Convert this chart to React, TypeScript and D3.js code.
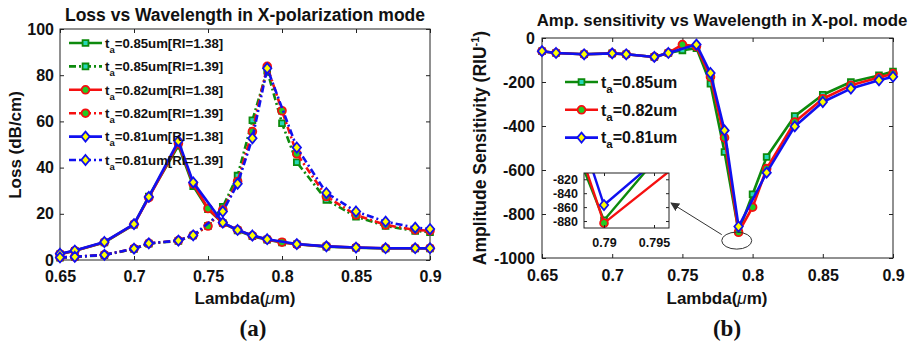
import { useEffect, useRef } from 'react';
import * as d3 from 'd3';

// wavelength samples (um); the 0.81um curves were not sampled at 0.75 / 0.80
const lambdaAll = [0.65, 0.66, 0.68, 0.7, 0.71, 0.73, 0.74, 0.75, 0.76, 0.77, 0.78, 0.79, 0.8, 0.81, 0.83, 0.85, 0.87, 0.89, 0.9];
const lambdaB = [0.65, 0.66, 0.68, 0.7, 0.71, 0.73, 0.74, 0.76, 0.77, 0.78, 0.79, 0.81, 0.83, 0.85, 0.87, 0.89, 0.9];

// (a) loss, dB/cm
const loss085ri138 = [2.5, 4, 7.6, 15.3, 27.5, 49.5, 32, 22, 16, 12.8, 10.3, 8.8, 7.6, 6.8, 5.8, 5.3, 5, 5, 5];
const loss085ri139 = [1, 1.3, 2.1, 4.8, 7.1, 8.3, 10.6, 14.8, 23, 36.5, 60.5, 82, 59.2, 42.3, 26, 18.8, 14.7, 12.6, 12];
const loss082ri138 = [2.6, 4, 7.7, 15.4, 27, 50.5, 33, 22.3, 16, 13, 10.5, 8.9, 7.7, 6.8, 5.9, 5.4, 5.1, 5.1, 5.1];
const loss082ri139 = [1.1, 1.4, 2.2, 4.9, 7.2, 8.4, 10.7, 14.7, 21.7, 34, 55.6, 83.8, 64.6, 46, 27.5, 19.5, 15.2, 13, 12.7];
const loss081ri138 = [2.7, 4.1, 7.8, 15.5, 27.3, 51.5, 33.6, 16.2, 13, 10.6, 9, 6.9, 5.9, 5.4, 5.1, 5.1, 5.1];
const loss081ri139 = [1.1, 1.4, 2.2, 4.9, 7.2, 8.4, 10.7, 21, 33, 52.7, 83, 48.7, 29, 21, 16.6, 14, 13.4];

// (b) amplitude sensitivity, RIU^-1
const sens085 = [-60, -68, -74, -70, -74, -86, -68, -56, -46, -208, -518, -879, -710, -541, -355, -258, -200, -170, -152];
const sens082 = [-60, -68, -74, -70, -74, -86, -68, -30, -38, -177, -453, -883, -769, -594, -382, -276, -215, -180, -162];
const sens081 = [-60, -68, -74, -70, -74, -86, -68, -30, -159, -420, -857, -612, -402, -291, -230, -192, -176];

const xTicks = [0.65, 0.7, 0.75, 0.8, 0.85, 0.9];
const lossTicks = [0, 20, 40, 60, 80, 100];
const sensTicks = [0, -200, -400, -600, -800, -1000];
const insetXTicks = [0.79, 0.795];
const insetYTicks = [-820, -840, -860, -880];

const FONT = '"Liberation Sans", Arial, Helvetica, sans-serif';
const DASH = '7,3,2,3';
const INK = '#222';

type Marker = 'square' | 'circle' | 'diamond';
interface Series {
  xs: number[];
  ys: number[];
  color: string;
  fill: string;
  marker: Marker;
  dashed: boolean;
  label: string;
}

const GREEN = '#0d8a0d';
const RED = '#f51010';
const BLUE = '#1010f0';

const lossSeries: Series[] = [
  { xs: lambdaAll, ys: loss085ri138, color: GREEN, fill: '#25d8b8', marker: 'square', dashed: false, label: '=0.85um[RI=1.38]' },
  { xs: lambdaAll, ys: loss085ri139, color: GREEN, fill: '#25d8b8', marker: 'square', dashed: true, label: '=0.85um[RI=1.39]' },
  { xs: lambdaAll, ys: loss082ri138, color: RED, fill: '#22cc22', marker: 'circle', dashed: false, label: '=0.82um[RI=1.38]' },
  { xs: lambdaAll, ys: loss082ri139, color: RED, fill: '#22cc22', marker: 'circle', dashed: true, label: '=0.82um[RI=1.39]' },
  { xs: lambdaB, ys: loss081ri138, color: BLUE, fill: '#ffff00', marker: 'diamond', dashed: false, label: '=0.81um[RI=1.38]' },
  { xs: lambdaB, ys: loss081ri139, color: BLUE, fill: '#ffff00', marker: 'diamond', dashed: true, label: '=0.81um[RI=1.39]' },
];

const sensSeries: Series[] = [
  { xs: lambdaAll, ys: sens085, color: GREEN, fill: '#25d8b8', marker: 'square', dashed: false, label: '=0.85um' },
  { xs: lambdaAll, ys: sens082, color: RED, fill: '#22cc22', marker: 'circle', dashed: false, label: '=0.82um' },
  { xs: lambdaB, ys: sens081, color: BLUE, fill: '#ffff00', marker: 'diamond', dashed: false, label: '=0.81um' },
];

function symbolPath(m: Marker) {
  if (m === 'square') return d3.symbol().type(d3.symbolSquare).size(34)();
  if (m === 'circle') return d3.symbol().type(d3.symbolCircle).size(48)();
  // MATLAB style diamond: a square turned on its corner
  return 'M0,-5L4.2,0L0,5L-4.2,0Z';
}

function drawFrame(
  g: d3.Selection<SVGGElement, unknown, null, undefined>,
  x: d3.ScaleLinear<number, number>,
  y: d3.ScaleLinear<number, number>,
  xt: number[],
  yt: number[],
  o: { font: number; padX: number; padY: number; tick: number }
) {
  const [x0, x1] = x.range();
  const [y0, y1] = y.range();
  const ax = g.append('g');
  ax.append('g')
    .attr('transform', `translate(0,${y0})`)
    .call(d3.axisBottom(x).tickValues(xt).tickFormat((d) => String(d)).tickSizeInner(-o.tick).tickSizeOuter(0).tickPadding(o.padX));
  ax.append('g')
    .attr('transform', `translate(0,${y1})`)
    .call(d3.axisTop(x).tickValues(xt).tickFormat(() => '').tickSizeInner(-o.tick).tickSizeOuter(0));
  ax.append('g')
    .attr('transform', `translate(${x0},0)`)
    .call(d3.axisLeft(y).tickValues(yt).tickFormat((d) => String(d)).tickSizeInner(-o.tick).tickSizeOuter(0).tickPadding(o.padY));
  ax.append('g')
    .attr('transform', `translate(${x1},0)`)
    .call(d3.axisRight(y).tickValues(yt).tickFormat(() => '').tickSizeInner(-o.tick).tickSizeOuter(0));
  ax.selectAll('.domain').remove();
  ax.selectAll('.tick line').attr('stroke', INK);
  ax.selectAll('text')
    .attr('font-family', FONT)
    .attr('font-size', o.font)
    .attr('font-weight', 'bold')
    .attr('fill', '#111');
  g.append('rect')
    .attr('x', x0)
    .attr('y', y1)
    .attr('width', x1 - x0)
    .attr('height', y0 - y1)
    .attr('fill', 'none')
    .attr('stroke', INK);
}

function drawSeries(
  g: d3.Selection<SVGGElement, unknown, null, undefined>,
  x: d3.ScaleLinear<number, number>,
  y: d3.ScaleLinear<number, number>,
  s: Series,
  lw: number
) {
  const line = d3
    .line<number>()
    .x((_, i) => x(s.xs[i]))
    .y((d) => y(d));
  g.append('path')
    .datum(s.ys)
    .attr('d', line)
    .attr('fill', 'none')
    .attr('stroke', s.color)
    .attr('stroke-width', lw)
    .attr('stroke-linejoin', 'round')
    .attr('stroke-dasharray', s.dashed ? DASH : null);
  g.selectAll(null)
    .data(s.ys)
    .enter()
    .append('path')
    .attr('transform', (d, i) => `translate(${x(s.xs[i])},${y(d)})`)
    .attr('d', symbolPath(s.marker))
    .attr('fill', s.fill)
    .attr('stroke', s.color)
    .attr('stroke-width', 1.8);
}

function drawLegend(
  g: d3.Selection<SVGGElement, unknown, null, undefined>,
  list: Series[],
  lx0: number,
  lx1: number,
  top: number,
  step: number,
  fs: number
) {
  list.forEach((s, i) => {
    const cy = top + i * step;
    g.append('line')
      .attr('x1', lx0)
      .attr('x2', lx1)
      .attr('y1', cy)
      .attr('y2', cy)
      .attr('stroke', s.color)
      .attr('stroke-width', 2.6)
      .attr('stroke-dasharray', s.dashed ? DASH : null);
    g.append('path')
      .attr('transform', `translate(${(lx0 + lx1) / 2},${cy})`)
      .attr('d', symbolPath(s.marker))
      .attr('fill', s.fill)
      .attr('stroke', s.color)
      .attr('stroke-width', 1.8);
    const t = g
      .append('text')
      .attr('x', lx1 + 3)
      .attr('y', cy + fs * 0.36)
      .attr('font-family', FONT)
      .attr('font-weight', 'bold')
      .attr('font-size', fs)
      .attr('fill', '#111');
    t.append('tspan').text('t');
    t.append('tspan').attr('dy', 5).attr('font-size', fs * 0.72).text('a');
    t.append('tspan').attr('dy', -5).text(s.label);
  });
}

function lambdaLabel(
  g: d3.Selection<SVGGElement, unknown, null, undefined>,
  cx: number,
  cy: number
) {
  const t = g
    .append('text')
    .attr('x', cx)
    .attr('y', cy)
    .attr('text-anchor', 'middle')
    .attr('font-family', FONT)
    .attr('font-weight', 'bold')
    .attr('font-size', 17)
    .attr('fill', '#111');
  t.append('tspan').text('Lambda(');
  t.append('tspan').attr('font-style', 'italic').attr('font-weight', 'normal').text('\u03bc');
  t.append('tspan').text('m)');
}

export default function App() {
  const svgRef = useRef<SVGSVGElement>(null);

  useEffect(() => {
    if (!svgRef.current) return;
    const svg = d3.select(svgRef.current);
    svg.selectAll('*').remove();
    const root = svg.append('g');

    // ---------- (a) Loss ----------
    const xa = d3.scaleLinear().domain([0.65, 0.9]).range([60, 430]);
    const ya = d3.scaleLinear().domain([0, 100]).range([260, 29]);
    const ga = root.append('g');
    drawFrame(ga, xa, ya, xTicks, lossTicks, { font: 16, padX: 11, padY: 6, tick: 4 });
    lossSeries.forEach((s) => drawSeries(ga, xa, ya, s, 2.6));
    drawLegend(ga, lossSeries, 69, 102, 43, 23.4, 13.2);

    ga.append('text')
      .attr('x', 245)
      .attr('y', 21)
      .attr('text-anchor', 'middle')
      .attr('font-family', FONT)
      .attr('font-weight', 'bold')
      .attr('font-size', 17.5)
      .attr('fill', '#111')
      .text('Loss vs Wavelength in X-polarization mode');
    ga.append('text')
      .attr('transform', 'translate(21,145) rotate(-90)')
      .attr('text-anchor', 'middle')
      .attr('font-family', FONT)
      .attr('font-weight', 'bold')
      .attr('font-size', 17)
      .attr('fill', '#111')
      .text('Loss (dB/cm)');
    lambdaLabel(ga, 245, 304);
    ga.append('text')
      .attr('x', 253)
      .attr('y', 336)
      .attr('text-anchor', 'middle')
      .attr('font-family', '"Liberation Serif", "Times New Roman", serif')
      .attr('font-weight', 'bold')
      .attr('font-size', 23)
      .attr('fill', '#111')
      .text('(a)');

    // ---------- (b) Amplitude sensitivity ----------
    const xb = d3.scaleLinear().domain([0.65, 0.9]).range([542, 893]);
    const yb = d3.scaleLinear().domain([-1000, 0]).range([258, 38]);
    const gb = root.append('g');
    drawFrame(gb, xb, yb, xTicks, sensTicks, { font: 16, padX: 12, padY: 7, tick: 4 });
    sensSeries.forEach((s) => drawSeries(gb, xb, yb, s, 2.6));
    drawLegend(gb, sensSeries, 565, 598, 82, 27.8, 16);

    gb.append('text')
      .attr('x', 722)
      .attr('y', 26)
      .attr('text-anchor', 'middle')
      .attr('font-family', FONT)
      .attr('font-weight', 'bold')
      .attr('font-size', 16.8)
      .attr('fill', '#111')
      .text('Amp. sensitivity vs Wavelength in X-pol. mode');
    const yl = gb
      .append('text')
      .attr('transform', 'translate(486,148) rotate(-90)')
      .attr('text-anchor', 'middle')
      .attr('font-family', FONT)
      .attr('font-weight', 'bold')
      .attr('font-size', 17.5)
      .attr('fill', '#111');
    yl.append('tspan').text('Amplitude Sensitivity (RIU');
    yl.append('tspan').attr('dy', -7).attr('font-size', 11).text('-1');
    yl.append('tspan').attr('dy', 7).text(')');
    lambdaLabel(gb, 717, 304);
    gb.append('text')
      .attr('x', 727)
      .attr('y', 336)
      .attr('text-anchor', 'middle')
      .attr('font-family', '"Liberation Serif", "Times New Roman", serif')
      .attr('font-weight', 'bold')
      .attr('font-size', 23)
      .attr('fill', '#111')
      .text('(b)');

    // ellipse around the minimum + arrow to the zoomed inset
    const ex = xb(0.7887);
    const ey = yb(-921);
    gb.append('ellipse')
      .attr('cx', ex)
      .attr('cy', ey)
      .attr('rx', 15)
      .attr('ry', 8.5)
      .attr('fill', 'none')
      .attr('stroke', '#333')
      .attr('stroke-width', 1);
    const defs = svg.append('defs');
    defs
      .append('marker')
      .attr('id', 'arrowhead')
      .attr('viewBox', '0 0 10 10')
      .attr('refX', 9)
      .attr('refY', 5)
      .attr('markerWidth', 9)
      .attr('markerHeight', 9)
      .attr('markerUnits', 'userSpaceOnUse')
      .attr('orient', 'auto')
      .append('path')
      .attr('d', 'M0,0 L10,5 L0,10 z')
      .attr('fill', '#333');

    // inset
    const xi = d3.scaleLinear().domain([0.788, 0.7965]).range([584, 669]);
    const yi = d3.scaleLinear().domain([-890, -811]).range([228, 173]);
    const gi = gb.append('g');
    gi.append('rect').attr('x', 584).attr('y', 173).attr('width', 85).attr('height', 55).attr('fill', '#fff');
    defs
      .append('clipPath')
      .attr('id', 'insetClip')
      .append('rect')
      .attr('x', 584)
      .attr('y', 173)
      .attr('width', 85)
      .attr('height', 55);
    const gic = gi.append('g').attr('clip-path', 'url(#insetClip)');
    sensSeries.forEach((s) => drawSeries(gic, xi, yi, s, 2.4));
    drawFrame(gi, xi, yi, insetXTicks, insetYTicks, { font: 12.5, padX: 10, padY: 6, tick: 3 });

    gb.append('line')
      .attr('x1', ex - 15)
      .attr('y1', ey - 6)
      .attr('x2', 671)
      .attr('y2', 203)
      .attr('stroke', '#333')
      .attr('stroke-width', 1)
      .attr('marker-end', 'url(#arrowhead)');
  }, []);

  return (
    <svg
      ref={svgRef}
      width={919}
      height={344}
      style={{ position: 'absolute', left: 0, top: 0, background: '#fff' }}
    />
  );
}
